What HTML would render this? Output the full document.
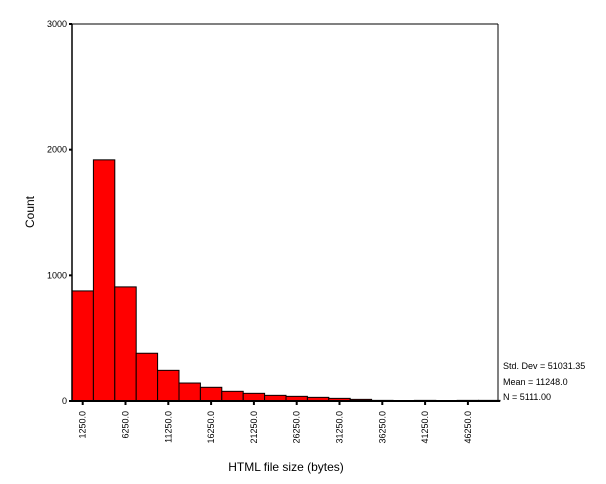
<!DOCTYPE html>
<html><head><meta charset="utf-8"><style>
html,body{margin:0;padding:0;background:#fff;}
svg{display:block;font-family:"Liberation Sans",Arial,sans-serif;}
</style></head><body>
<svg id="chart" width="606" height="484">
<rect x="0" y="0" width="606" height="484" fill="#fff"/>
<g id="bars"></g>
<line x1="72" y1="24" x2="498" y2="24" stroke="#000" stroke-width="1"/>
<line x1="498" y1="24" x2="498" y2="401" stroke="#000" stroke-width="1"/>
<line x1="72" y1="24" x2="72" y2="401" stroke="#000" stroke-width="1.5"/>
<line x1="70" y1="401" x2="500" y2="401" stroke="#000" stroke-width="2"/>
<g id="yticks"></g>
<g id="xticks"></g>
<text x="34" y="212" font-size="12" text-anchor="middle" transform="rotate(-90 34 212)">Count</text>
<text x="286" y="471" font-size="12" text-anchor="middle">HTML file size (bytes)</text>
<text x="503" y="369" font-size="9">Std. Dev = 51031.35</text>
<text x="503" y="385" font-size="9">Mean = 11248.0</text>
<text x="503" y="400" font-size="9">N = 5111.00</text>
</svg>
<script>
const binCenters = [1250,3750,6250,8750,11250,13750,16250,18750,21250,23750,26250,28750,31250,33750,36250,38750,41250,43750,46250,48750];
const counts = [876,1919,908,380,244,143,109,77,61,45,37,29,21,13,5,1,5,1,5,5];
const yTickValues = [0,1000,2000,3000];
const xTickValues = [1250,6250,11250,16250,21250,26250,31250,36250,41250,46250];
const binWidth = 2500;
const NS = "http://www.w3.org/2000/svg";
const X0 = 72, X1 = 500, Y0 = 401, Y1 = 24;
function xs(v){ return X0 + v/50000*(X1-X0); }
function ys(v){ return Y0 - v/3000*(Y0-Y1); }
const bars = document.getElementById('bars');
binCenters.forEach((c,i)=>{
  const r = document.createElementNS(NS,'rect');
  const x = xs(c-binWidth/2), w = xs(c+binWidth/2)-x;
  r.setAttribute('x', x); r.setAttribute('width', w);
  r.setAttribute('y', ys(counts[i])); r.setAttribute('height', Y0-ys(counts[i]));
  r.setAttribute('fill','#ff0000'); r.setAttribute('stroke','#000'); r.setAttribute('stroke-width','1');
  
  
  bars.appendChild(r);
});
const yt = document.getElementById('yticks');
yTickValues.forEach(v=>{
  const l = document.createElementNS(NS,'line');
  l.setAttribute('x1',69); l.setAttribute('x2',72); l.setAttribute('y1',ys(v)); l.setAttribute('y2',ys(v));
  l.setAttribute('stroke','#000'); l.setAttribute('stroke-width','2');
  
  
  yt.appendChild(l);
  const t = document.createElementNS(NS,'text');
  t.setAttribute('x',67); t.setAttribute('y',ys(v)+3); t.setAttribute('font-size','9'); t.setAttribute('text-anchor','end');
  t.textContent = v;
  
  
  yt.appendChild(t);
});
const xt = document.getElementById('xticks');
xTickValues.forEach(v=>{
  const x = xs(v);
  const l = document.createElementNS(NS,'line');
  l.setAttribute('x1',x); l.setAttribute('x2',x); l.setAttribute('y1',401); l.setAttribute('y2',405);
  l.setAttribute('stroke','#000'); l.setAttribute('stroke-width','2');
  
  
  xt.appendChild(l);
  const t = document.createElementNS(NS,'text');
  t.setAttribute('x',x+3); t.setAttribute('y',411); t.setAttribute('font-size','9'); t.setAttribute('text-anchor','end');
  t.setAttribute('transform','rotate(-90 '+(x+3)+' 411)');
  t.textContent = v.toFixed(1);
  
  
  xt.appendChild(t);
});
</script>
</body></html>
